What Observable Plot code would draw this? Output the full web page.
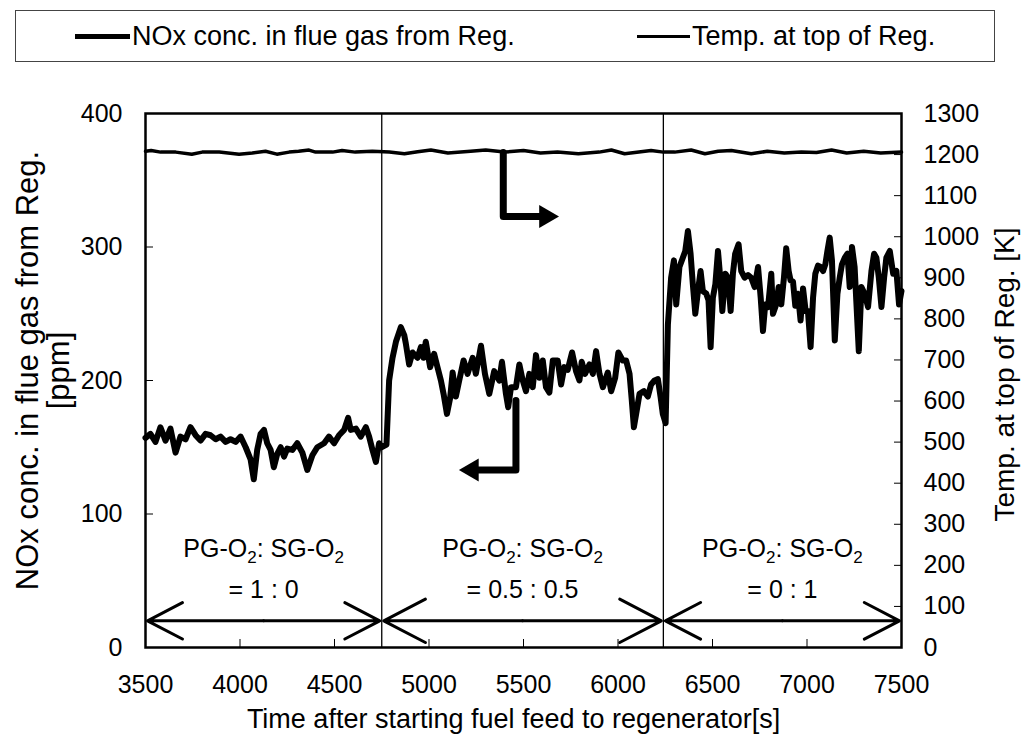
<!DOCTYPE html>
<html><head><meta charset="utf-8">
<script src="https://cdn.jsdelivr.net/npm/d3@7"></script>
<script src="https://cdn.jsdelivr.net/npm/@observablehq/plot@0.6"></script>
<style>
body{margin:0;background:#fff;font-family:"Liberation Sans",Arial,sans-serif;}
#legendArea{position:relative;width:1026px;height:85px;}
#legendBox{position:absolute;left:15px;top:10px;width:980px;height:52px;border:1px solid #444;box-sizing:border-box;}
.li{position:absolute;top:0;height:50px;display:flex;align-items:center;font-size:27px;color:#000;white-space:nowrap;}
.sw{display:inline-block;background:#000;margin-right:2px;}
</style></head>
<body>
<div id="legendArea"><div id="legendBox">
<div class="li" style="left:59px"><span class="sw" style="width:55px;height:5px"></span><span id="lg1"></span></div>
<div class="li" style="left:621px"><span class="sw" style="width:53px;height:3px"></span><span id="lg2"></span></div>
</div></div>
<div id="chart"></div>
<script>
// ---------- data ----------
const seriesNames = ["NOx conc. in flue gas from Reg.", "Temp. at top of Reg."];
const xTicks = [3500, 4000, 4500, 5000, 5500, 6000, 6500, 7000, 7500];
const ppmTicks = [0, 100, 200, 300, 400];
const kTicks = [0, 100, 200, 300, 400, 500, 600, 700, 800, 900, 1000, 1100, 1200, 1300];
const phaseStart = [3500, 4750, 6240];
const phaseEnd = [4750, 6240, 7500];
const phaseLine1 = ["PG-O2: SG-O2", "PG-O2: SG-O2", "PG-O2: SG-O2"];
const phaseLine2 = ["= 1 : 0", "= 0.5 : 0.5", "= 0 : 1"];

const noxTime = [3500,3526,3553,3579,3606,3632,3659,3685,3712,3738,3765,3791,3818,3844,3871,3897,3924,3950,3977,4003,4030,4056,4073,4091,4109,4127,4144,4162,4179,4197,4215,4233,4250,4277,4303,4330,4356,4383,4409,4445,4471,4498,4524,4551,4572,4586,4613,4639,4666,4683,4701,4719,4736,4750,4775,
4789,4807,4825,4851,4869,4877,4895,4913,4939,4957,4971,4983,5006,5027,5045,5063,5077,5095,5112,5125,5142,5160,5183,5204,5231,5248,5275,5296,5319,5345,5372,5386,5407,5419,5434,
5460,5478,5496,5513,5531,5549,5566,5584,5602,5619,5637,5655,5681,5699,5716,5734,5757,5778,5796,5808,5826,5849,5867,5884,5902,5920,5946,5964,5985,6002,6025,6043,6061,6073,6084,6096,6114,6137,6158,6175,6193,6211,6225,6237,6252,
6264,6281,6296,6308,6325,6343,6356,6370,6384,6396,6409,6423,6437,6449,6467,6479,6490,6502,6515,6529,6541,6552,6568,6582,6596,6608,6620,6638,6652,6670,6688,6705,6723,6741,6755,6767,6779,6794,
6811,6820,6837,6850,6864,6878,6890,6903,6913,6926,6938,6952,6966,6979,6993,7005,7019,7032,7044,7058,7072,7085,7097,7108,7120,7132,7147,7161,7173,7185,7200,7214,7226,7238,7252,7274,7288,7305,7323,7341,7355,7367,7380,7394,7408,7420,7438,7456,7473,7487,7500];
const noxPpm = [157,160,154,165,155,164,146,158,156,165,159,155,160,159,156,158,154,156,154,158,150,141,126,148,160,163,153,148,135,145,150,143,149,148,153,146,133,144,150,153,158,153,159,163,172,163,164,158,165,158,148,139,153,150,152,
200,217,229,240,234,228,212,221,217,225,217,229,210,220,210,200,190,175,187,206,188,200,215,205,217,205,226,205,190,207,200,214,190,180,195,
195,212,200,192,205,195,219,202,215,195,191,215,215,197,210,208,221,207,200,214,205,212,205,222,205,195,206,192,202,221,215,215,205,185,165,175,190,192,188,197,200,201,188,175,168,
242,277,290,257,285,292,297,312,295,272,250,267,282,267,265,260,225,262,272,297,277,252,280,277,252,280,295,302,282,277,279,277,270,285,262,237,257,255,
280,250,257,270,257,277,299,282,275,274,256,265,245,269,252,252,225,262,280,286,285,282,287,297,307,290,230,265,277,287,292,295,270,300,285,222,270,265,255,282,295,292,277,255,277,292,297,280,282,257,267];

const tempTime = [3500,3530,3580,3660,3745,3800,3890,3995,4065,4135,4195,4260,4310,4365,4400,4490,4540,4610,4700,4790,4870,4940,5010,5100,5220,5300,5400,5500,5590,5680,5790,5900,5965,6035,6175,6240,6300,6387,6460,6530,6600,6705,6790,6880,6970,7050,7130,7210,7300,7390,7500];
const tempK = [1208,1210,1206,1206,1201,1206,1206,1201,1204,1208,1201,1206,1208,1211,1206,1206,1210,1206,1208,1206,1202,1207,1211,1204,1208,1211,1206,1210,1204,1206,1202,1206,1211,1202,1210,1206,1206,1211,1202,1208,1210,1202,1208,1204,1206,1205,1211,1204,1208,1204,1206];

// pointer annotations (x in s, y in ppm)
const pointerTempX = [5393, 5393, 5618];
const pointerTempY = [370.8, 322.8, 322.8];
const pointerNoxX = [5460, 5460, 5228];
const pointerNoxY = [185, 133, 133];

// ---------- build ----------
document.getElementById("lg1").textContent = seriesNames[0];
document.getElementById("lg2").textContent = seriesNames[1];

const nox = noxTime.map((t, i) => ({t, v: noxPpm[i]}));
const temp = tempTime.map((t, i) => ({t, v: tempK[i] * 400 / 1300}));
const phases = phaseStart.map((s, i) => ({s, e: phaseEnd[i], m: (s + phaseEnd[i]) / 2, l1: phaseLine1[i], l2: phaseLine2[i]}));
const arrows = phases.flatMap(p => [{x1: p.m, x2: p.s}, {x1: p.m, x2: p.e}]);
const pTemp = pointerTempX.map((x, i) => ({x, y: pointerTempY[i]}));
const pNox = pointerNoxX.map((x, i) => ({x, y: pointerNoxY[i]}));
const heads = [{x: pTemp[2].x, y: pTemp[2].y, r: 90}, {x: pNox[2].x, y: pNox[2].y, r: -90}];

const FS = 25;
const chart = Plot.plot({
  width: 1026, height: 652,
  marginLeft: 145, marginRight: 125, marginTop: 28, marginBottom: 90,
  style: {fontFamily: "'Liberation Sans', Arial, sans-serif", fontSize: FS + "px", color: "#000", background: "#fff"},
  x: {domain: [3500, 7500]},
  y: {domain: [0, 400]},
  marks: [
    Plot.ruleX(phaseStart.slice(1), {stroke: "#000", strokeWidth: 1.3}),
    Plot.line(temp, {x: "t", y: "v", stroke: "#000", strokeWidth: 3.5, strokeLinejoin: "round"}),
    Plot.line(nox, {x: "t", y: "v", stroke: "#000", strokeWidth: 6, strokeLinejoin: "round", strokeLinecap: "round"}),
    Plot.arrow(arrows, {x1: "x1", x2: "x2", y1: 20, y2: 20, stroke: "#000", strokeWidth: 3, headLength: 28, headAngle: 55, insetEnd: 2}),
    Plot.line(pTemp, {x: "x", y: "y", stroke: "#000", strokeWidth: 7}),
    Plot.line(pNox, {x: "x", y: "y", stroke: "#000", strokeWidth: 7}),
    Plot.dot(heads, {x: "x", y: "y", rotate: "r", symbol: "triangle", r: 8.5, fill: "#000", stroke: "none"}),
    Plot.text(phases, {x: "m", y: 74, text: "l1", fontSize: FS}),
    Plot.text(phases, {x: "m", y: 43, text: "l2", fontSize: FS}),
    Plot.axisX(xTicks, {anchor: "bottom", tickSize: -8, tickPadding: 36, label: null, tickFormat: d => String(d)}),
    Plot.axisY(ppmTicks, {anchor: "left", tickSize: -8, tickPadding: 31, label: null}),
    Plot.axisY(kTicks.map(k => k * 400 / 1300), {anchor: "right", tickSize: -8, tickPadding: 30, label: null, tickFormat: d => String(Math.round(d * 1300 / 400))}),
    Plot.text(["NOx conc. in flue gas from Reg.\n[ppm]"], {frameAnchor: "left", textAnchor: "middle", lineAnchor: "middle", rotate: -90, dx: -102, dy: -10, fontSize: 31, lineHeight: 1.0}),
    Plot.text(["Temp. at top of Reg. [K]"], {frameAnchor: "right", textAnchor: "middle", lineAnchor: "middle", rotate: -90, dx: 104, dy: -6, fontSize: 28}),
    Plot.text(["Time after starting fuel feed to regenerator[s]"], {frameAnchor: "bottom", dy: 80, dx: -10, fontSize: 27}),
    Plot.frame({stroke: "#000", strokeWidth: 2.5})
  ]
});
document.getElementById("chart").appendChild(chart);

// subscript "2" in O2
const NS = "http://www.w3.org/2000/svg";
chart.querySelectorAll("text").forEach(t => {
  if (t.children.length || !t.textContent.includes("O2")) return;
  const parts = t.textContent.split("O2");
  t.textContent = "";
  parts.forEach((p, i) => {
    const a = document.createElementNS(NS, "tspan");
    if (i > 0) a.setAttribute("dy", "-6");
    a.textContent = p + (i < parts.length - 1 ? "O" : "");
    t.appendChild(a);
    if (i < parts.length - 1) {
      const s = document.createElementNS(NS, "tspan");
      s.setAttribute("dy", "6");
      s.setAttribute("font-size", "17");
      s.textContent = "2";
      t.appendChild(s);
    }
  });
});
</script>
</body></html>
